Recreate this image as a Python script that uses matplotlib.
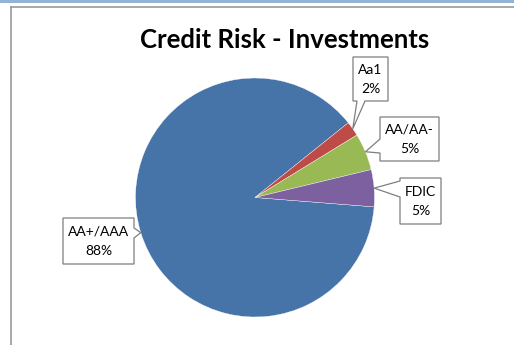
import numpy as np
import matplotlib
matplotlib.use("Agg")
import matplotlib.pyplot as plt
from matplotlib.patches import Polygon, Rectangle

plt.rcParams['font.family'] = ['Lato', 'DejaVu Sans']

# Portfolio composition by credit rating
categories = ["AA+/AAA", "Aa1", "AA/AA-", "FDIC"]
shares = [88, 2, 5, 5]
pct_labels = ["88%", "2%", "5%", "5%"]
colors = ["#4673A8", "#BE4B48", "#98B954", "#7D60A0"]

W, H = 514, 345
fig = plt.figure(figsize=(W / 100, H / 100), dpi=100)
ax = fig.add_axes([0, 0, 1, 1])


def px(x, y):
    """Pixel position (origin top-left) to axes data coordinates."""
    return (x, H - y)


cx, cy = px(255, 197.5)
radius = 119.5
start = -4.5
wedges, _ = ax.pie(shares, colors=colors, startangle=start, counterclock=False,
                   center=(cx, cy), radius=radius, frame=True,
                   wedgeprops=dict(edgecolor="white", linewidth=0.25))
ax.set_xlim(0, W)
ax.set_ylim(0, H)
ax.set_aspect('equal')
ax.set_axis_off()

# chart frame
ax.add_patch(Rectangle(px(0, 2.5), W, 2.5, color="#95B3D7", lw=0, zorder=1))
ax.plot([10.5, W], [H - 7, H - 7], color="#9A9A9A", lw=1.2, zorder=1)
ax.plot([10.5, 10.5], [H - 7, 0], color="#9A9A9A", lw=1.2, zorder=1)

ax.text(*px(284.5, 40), "Credit Risk - Investments", ha="center", va="center",
        fontsize=18.5, fontweight="bold", color="black")

# callout boxes: (left, top, right, bottom) in pixels, pointer side and base span
boxes = [
    ((63, 218, 134, 264), "right", (228, 238)),
    ((353, 57, 388, 101), "bottom", (357, 365)),
    ((380, 117, 439, 161), "left", (139, 153)),
    ((400, 178, 441, 224), "left", (181, 197)),
]

for w, name, pct, (box, side, base) in zip(wedges, categories, pct_labels, boxes):
    mid = np.deg2rad((w.theta1 + w.theta2) / 2)
    tip = (cx + radius * np.cos(mid), cy + radius * np.sin(mid))
    l, t, r, b = box
    if side == "right":
        pts = [px(l, t), px(r, t), px(r, base[0]), tip, px(r, base[1]),
               px(r, b), px(l, b)]
    elif side == "left":
        pts = [px(l, t), px(r, t), px(r, b), px(l, b), px(l, base[1]), tip,
               px(l, base[0])]
    else:
        pts = [px(l, t), px(r, t), px(r, b), px(base[1], b), tip,
               px(base[0], b), px(l, b)]
    ax.add_patch(Polygon(pts, closed=True, facecolor="white",
                         edgecolor="#7F7F7F", lw=0.9, zorder=5))
    ax.text(*px((l + r) / 2, (t + b) / 2 + 0.5), f"{name}\n{pct}", ha="center",
            va="center", fontsize=10, linespacing=1.75, color="black", zorder=6)

fig.savefig("out.png", dpi=100)
